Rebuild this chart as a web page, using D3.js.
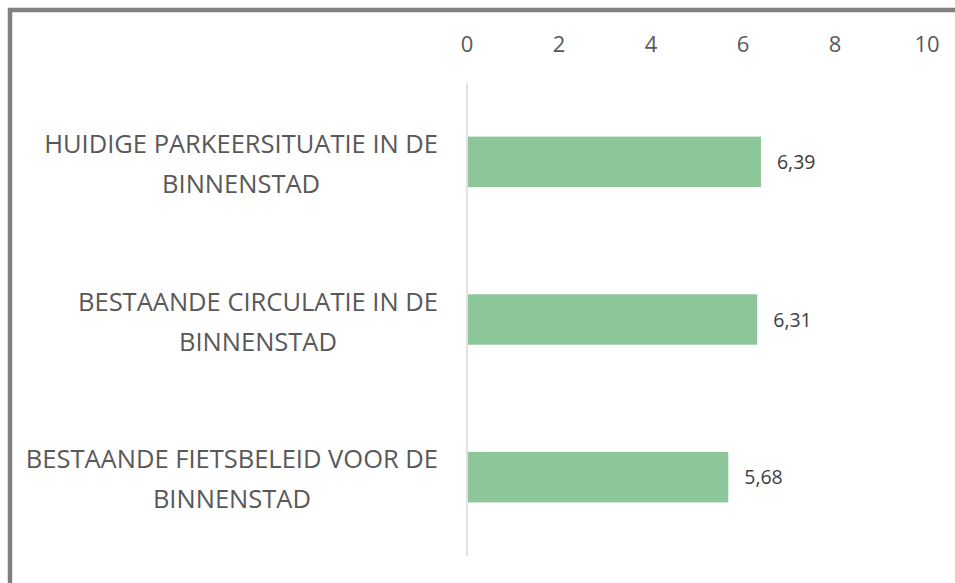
<!DOCTYPE html>
<html>
<head>
<meta charset="utf-8">
<script src="https://cdn.jsdelivr.net/npm/d3@7"></script>
<style>
  body { margin: 0; background: #fff; }
  svg { display: block; }
  text { font-family: "Open Sans", sans-serif; }
</style>
</head>
<body>
<svg id="chart"></svg>
<script>
    const categories = [
      ["HUIDIGE PARKEERSITUATIE IN DE", "BINNENSTAD"],
      ["BESTAANDE CIRCULATIE IN DE", "BINNENSTAD"],
      ["BESTAANDE FIETSBELEID VOOR DE", "BINNENSTAD"]
    ];
    const values = [6.39, 6.31, 5.68];
    const tickValues = [0, 2, 4, 6, 8, 10];

    const W = 955, H = 583;
    const svg = d3.select("#chart").attr("width", W).attr("height", H);

    // chart frame (only top and left edges in view)
    svg.append("rect")
      .attr("x", 10).attr("y", 10)
      .attr("width", W + 20).attr("height", H + 20)
      .attr("fill", "#fff")
      .attr("stroke", "#808080")
      .attr("stroke-width", 4.5);

    const x = d3.scaleLinear().domain([0, 10]).range([467, 927]);
    const y = d3.scaleBand()
      .domain(d3.range(categories.length))
      .range([83, 556])
      .paddingInner(0.68)
      .paddingOuter(0.34);

    // top axis labels
    svg.append("g").selectAll("text")
      .data(tickValues)
      .join("text")
      .attr("x", d => x(d))
      .attr("y", 52)
      .attr("text-anchor", "middle")
      .attr("fill", "#595959")
      .style("font-size", "22px")
      .text(d => d);

    // vertical axis line
    svg.append("line")
      .attr("x1", x(0)).attr("x2", x(0))
      .attr("y1", 83).attr("y2", 556)
      .attr("stroke", "#d9d9d9")
      .attr("stroke-width", 1.5);

    // bars
    svg.append("g").selectAll("rect")
      .data(values)
      .join("rect")
      .attr("x", x(0) + 1)
      .attr("y", (d, i) => y(i))
      .attr("width", d => x(d) - x(0) - 1)
      .attr("height", y.bandwidth())
      .attr("fill", "#8dc799");

    // value labels
    svg.append("g").selectAll("text")
      .data(values)
      .join("text")
      .attr("x", d => x(d) + 16)
      .attr("y", (d, i) => y(i) + y.bandwidth() / 2 + 7)
      .attr("fill", "#404040")
      .style("font-size", "19.5px")
      .text(d => d.toFixed(2).replace(".", ","));

    // category labels, centred block right-aligned to axis
    const catG = svg.append("g");
    categories.forEach((lines, i) => {
      const t = catG.append("text")
        .attr("fill", "#595959")
        .style("font-size", "25.5px")
        .attr("text-anchor", "middle");
      const cy = y(i) + y.bandwidth() / 2;
      lines.forEach((ln, j) => {
        t.append("tspan")
          .attr("y", cy - 9 + j * 40)
          .text(ln);
      });
      let maxW = 0;
      t.selectAll("tspan").each(function () {
        maxW = Math.max(maxW, this.getComputedTextLength());
      });
      t.selectAll("tspan").attr("x", 438 - maxW / 2);
    });
</script>
</body>
</html>
